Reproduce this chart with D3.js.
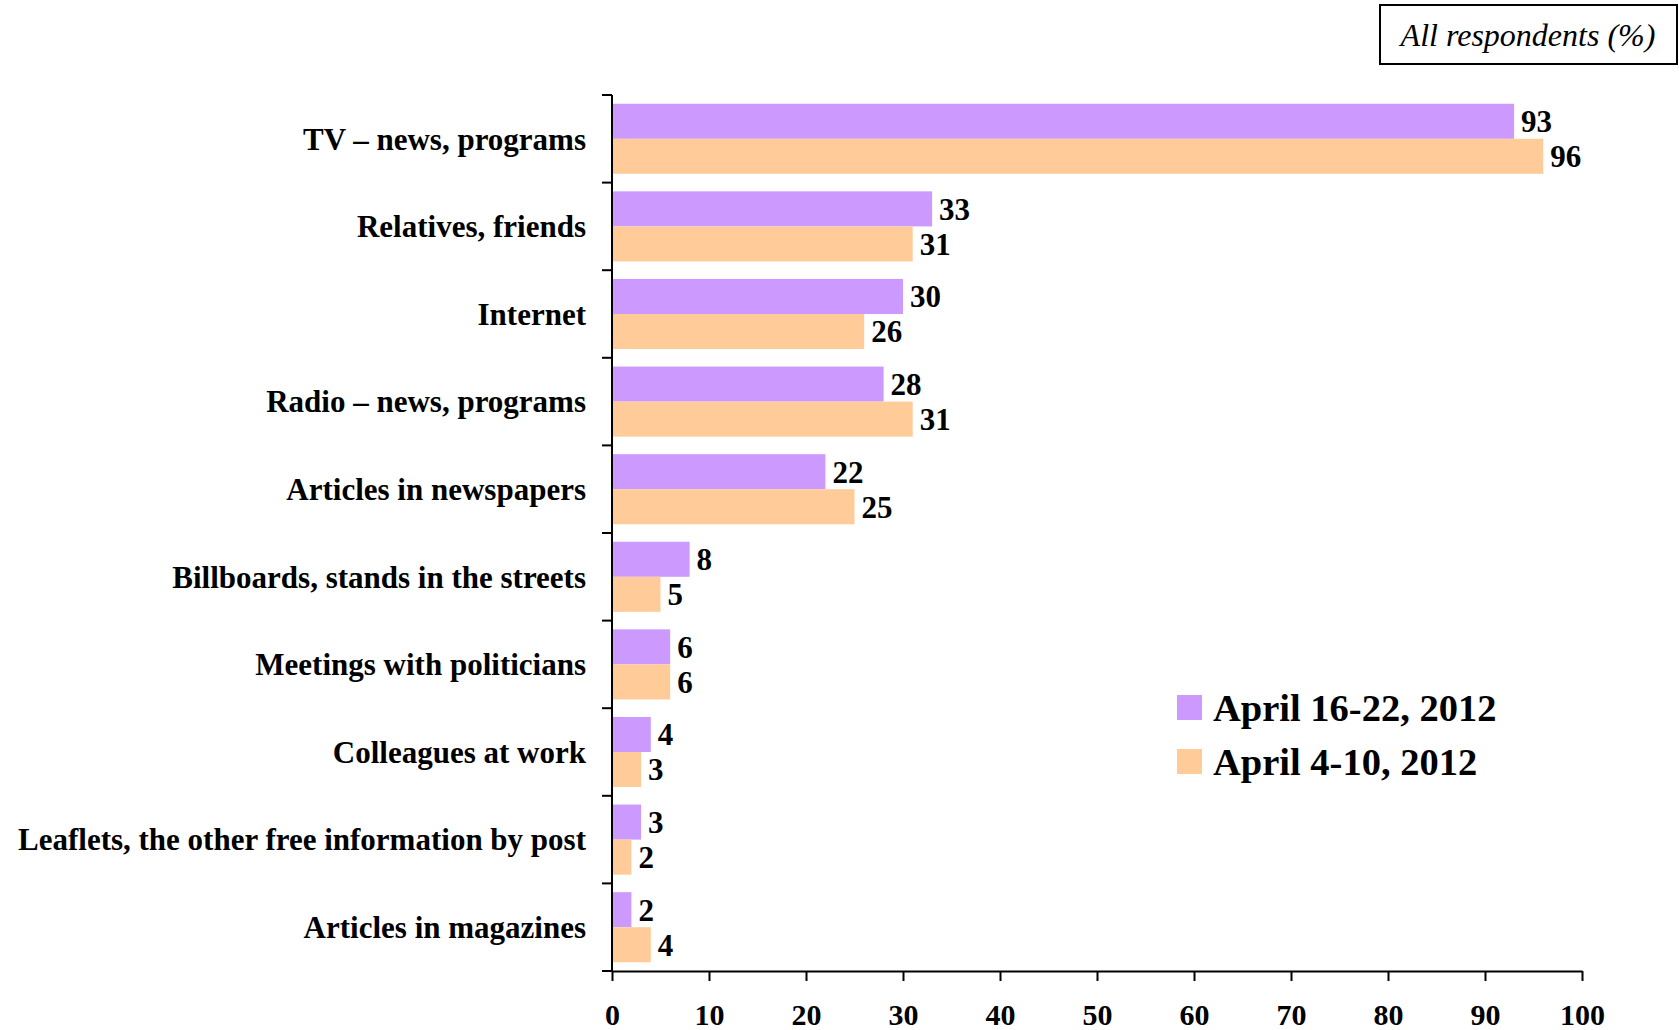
<html lang="en">
<head>
    <meta charset="UTF-8">
    <title>Sources of information</title>
    <script src="https://d3js.org/d3.v7.min.js"></script>
    <style>
        body { margin: 0; background: white; }
        #canvas { display: block; }
        text { font-family: "Liberation Serif", "Times New Roman", serif; fill: black; }
        .bold { font-weight: bold; }
        .axis path, .axis line { stroke: black; stroke-width: 2px; }
    </style>
</head>
<body>
<svg id="canvas" width="1679" height="1030"></svg>
<script>
    let categories = ["TV – news, programs", "Relatives, friends", "Internet", "Radio – news, programs",
        "Articles in newspapers", "Billboards, stands in the streets", "Meetings with politicians",
        "Colleagues at work", "Leaflets, the other free information by post", "Articles in magazines"];
    let seriesNames = ["April 16-22, 2012", "April 4-10, 2012"];
    let april16 = [93, 33, 30, 28, 22, 8, 6, 4, 3, 2];
    let april4 = [96, 31, 26, 31, 25, 5, 6, 3, 2, 4];
    let xTicks = [0, 10, 20, 30, 40, 50, 60, 70, 80, 90, 100];
    let colors = ["#CC99FF", "#FFCC99"];

    let svg = d3.select('svg');
    let plotLeft = 612, plotRight = 1582, plotTop = 95, plotBottom = 971;

    let x = d3.scaleLinear().domain([0, 100]).range([plotLeft, plotRight]);
    let y = d3.scaleBand().domain(categories).range([plotTop, plotBottom]).padding(0);
    let ySub = d3.scaleBand().domain(seriesNames).range([0, y.bandwidth()]).paddingInner(0).paddingOuter(0.25);
    let color = d3.scaleOrdinal().domain(seriesNames).range(colors);

    let rows = categories.map(function (c, i) {
        return {cat: c, values: [{s: seriesNames[0], v: april16[i]}, {s: seriesNames[1], v: april4[i]}]};
    });

    let groups = svg.append('g').selectAll('g').data(rows).enter().append('g')
        .attr("transform", function (d) { return "translate(0," + y(d.cat) + ")"; });
    groups.selectAll('rect').data(function (d) { return d.values; }).enter().append('rect')
        .attr("x", x(0)).attr("y", function (d) { return ySub(d.s); })
        .attr("width", function (d) { return x(d.v) - x(0); })
        .attr("height", ySub.bandwidth())
        .attr("fill", function (d) { return color(d.s); });
    groups.selectAll('text').data(function (d) { return d.values; }).enter().append('text')
        .attr("class", "bold")
        .attr("x", function (d) { return x(d.v) + 7; })
        .attr("y", function (d) { return ySub(d.s) + ySub.bandwidth() / 2; })
        .attr("dy", "0.35em").style("font-size", "31px")
        .text(function (d) { return d.v; });

    // category axis: labels centred, ticks on band boundaries
    let yAxis = svg.append('g').attr("class", "axis");
    yAxis.append('line').attr("x1", plotLeft).attr("x2", plotLeft).attr("y1", plotTop).attr("y2", plotBottom);
    yAxis.selectAll('line.tick').data(categories.concat(["end"])).enter().append('line')
        .attr("x1", plotLeft - 10).attr("x2", plotLeft)
        .attr("y1", function (d) { return d === "end" ? plotBottom : y(d); })
        .attr("y2", function (d) { return d === "end" ? plotBottom : y(d); });
    yAxis.selectAll('text').data(categories).enter().append('text')
        .attr("class", "bold")
        .attr("x", plotLeft - 26).attr("y", function (d) { return y(d) + y.bandwidth() / 2; })
        .attr("dy", "0.35em").attr("text-anchor", "end").style("font-size", "31px")
        .text(function (d) { return d; });

    let xAxis = svg.append('g').attr("class", "axis")
        .attr("transform", "translate(0," + plotBottom + ")")
        .call(d3.axisBottom(x).tickValues(xTicks).tickSize(10).tickSizeOuter(0).tickPadding(23));
    xAxis.attr("font-family", null).attr("font-size", null);
    xAxis.selectAll('text').attr("class", "bold").style("font-size", "30px");

    // legend
    let legend = svg.append('g').attr("transform", "translate(1177,695)");
    let items = legend.selectAll('g').data(seriesNames).enter().append('g')
        .attr("transform", function (d, i) { return "translate(0," + (i * 54) + ")"; });
    items.append('rect').attr("width", 25).attr("height", 25).attr("fill", function (d) { return color(d); });
    items.append('text').attr("class", "bold").attr("x", 36).attr("y", 13).attr("dy", "0.35em")
        .style("font-size", "38.5px").text(function (d) { return d; });

    // title box
    svg.append('rect').attr("x", 1380).attr("y", 5).attr("width", 297).attr("height", 59)
        .attr("fill", "white").attr("stroke", "black").attr("stroke-width", 2);
    svg.append('text').attr("x", 1528).attr("y", 35).attr("dy", "0.35em").attr("text-anchor", "middle")
        .style("font-size", "32px").style("font-style", "italic").text("All respondents (%)");
</script>
</body>
</html>
